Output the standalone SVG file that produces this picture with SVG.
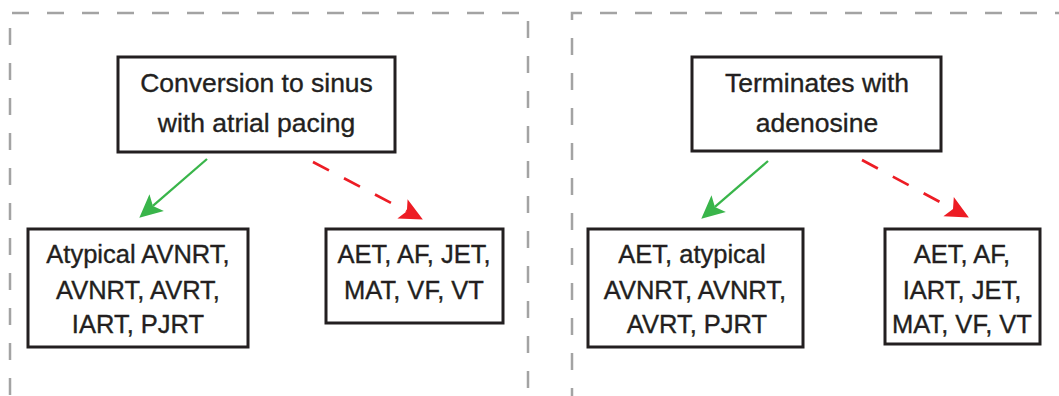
<svg xmlns="http://www.w3.org/2000/svg" width="1059" height="396" viewBox="0 0 1059 396">
<style>
.panel{fill:none;stroke:#a3a3a3;stroke-width:2.5;stroke-dasharray:17 18}
.box{fill:#fff;stroke:#231f20;stroke-width:3}
.t{font-family:"Liberation Sans",Arial,sans-serif;fill:#231f20;stroke:#231f20;stroke-width:0.35;text-anchor:middle}
.tt{font-size:26.5px}
.tb{font-size:25.5px}
.g{fill:none;stroke:#39b54a;stroke-width:2.3}
.r{fill:none;stroke:#ed1c24;stroke-width:2.7;stroke-dasharray:18 17}
</style>
<defs>
<marker id="ag" markerUnits="userSpaceOnUse" markerWidth="30" markerHeight="30" refX="5" refY="0" orient="auto" overflow="visible">
<path d="M0,-11 L23,0 L0,11 L5,0 Z" fill="#39b54a"/>
</marker>
<marker id="ar" markerUnits="userSpaceOnUse" markerWidth="30" markerHeight="30" refX="5" refY="0" orient="auto" overflow="visible">
<path d="M0,-11 L23,0 L0,11 L5,0 Z" fill="#ed1c24"/>
</marker>
</defs>
<g id="panels">
<path class="panel" d="M12,13 H521"/>
<path class="panel" d="M10,28 V396"/>
<path class="panel" d="M528,21 V396"/>
<path class="panel" d="M572,20 V13 H1059"/>
<path class="panel" d="M572,38 V396"/>
</g>
<g id="connectors">
<path class="g" d="M207,159 L152.9,205.9" marker-end="url(#ag)"/>
<path class="r" d="M313,162 L406.9,211.2" marker-end="url(#ar)"/>
<path class="g" d="M768,161 L714.9,206.9" marker-end="url(#ag)"/>
<path class="r" d="M862,160 L953,209" marker-end="url(#ar)"/>
</g>
<g id="n-conversion">
<rect class="box" x="118" y="57" width="277" height="95"/>
<text class="t tt" x="256.5" y="92">Conversion to sinus</text>
<text class="t tt" x="256.5" y="132">with atrial pacing</text>
</g>
<g id="n-left-yes">
<rect class="box" x="28" y="229" width="220" height="118"/>
<text class="t tb" x="138" y="263">Atypical AVNRT,</text>
<text class="t tb" x="138" y="299">AVNRT, AVRT,</text>
<text class="t tb" x="138" y="333">IART, PJRT</text>
</g>
<g id="n-left-no">
<rect class="box" x="326" y="229" width="177" height="94"/>
<text class="t tb" x="414" y="263">AET, AF, JET,</text>
<text class="t tb" x="414" y="299">MAT, VF, VT</text>
</g>
<g id="n-adenosine">
<rect class="box" x="692" y="57" width="249" height="94"/>
<text class="t tt" x="817" y="92">Terminates with</text>
<text class="t tt" x="817" y="132">adenosine</text>
</g>
<g id="n-right-yes">
<rect class="box" x="588" y="229" width="215" height="118"/>
<text class="t tb" x="692" y="263">AET, atypical</text>
<text class="t tb" x="695" y="299">AVNRT, AVNRT,</text>
<text class="t tb" x="697" y="333">AVRT, PJRT</text>
</g>
<g id="n-right-no">
<rect class="box" x="885" y="229" width="155" height="115"/>
<text class="t tb" x="962" y="263">AET, AF,</text>
<text class="t tb" x="962" y="299">IART, JET,</text>
<text class="t tb" x="962" y="333">MAT, VF, VT</text>
</g>
</svg>
